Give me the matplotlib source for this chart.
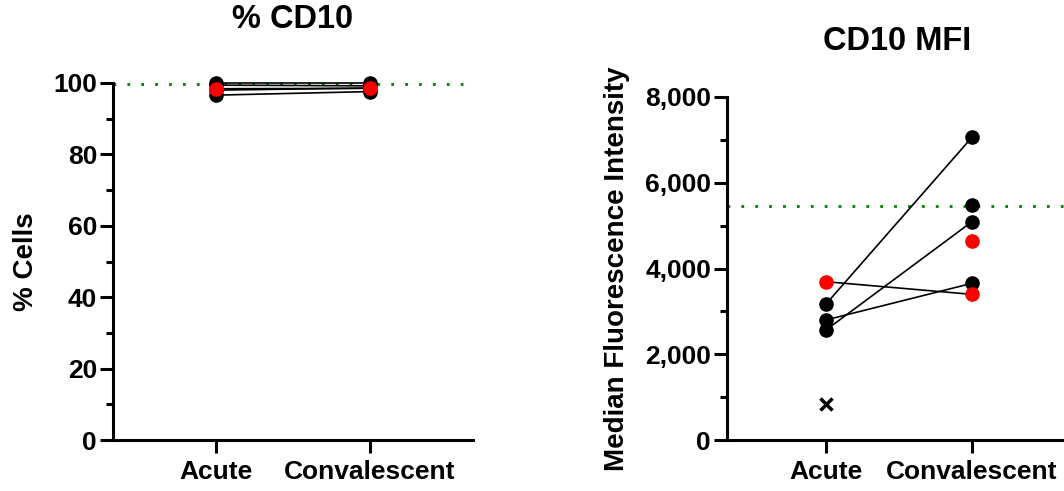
import matplotlib
matplotlib.use("Agg")
import matplotlib.pyplot as plt
from matplotlib.ticker import MultipleLocator, FuncFormatter

plt.rcParams['font.family'] = ['Liberation Sans', 'DejaVu Sans']
plt.rcParams['font.weight'] = 'bold'

categories = ["Acute", "Convalescent"]

# Left panel: % CD10 (paired black points, red point)
pct_acute_black = [99.9, 99.4, 98.0, 96.6]
pct_conv_black = [99.9, 99.2, 98.6, 97.6]
pct_acute_red = [98.4]
pct_conv_red = [98.5]
pct_reference = 99.6

# Right panel: CD10 MFI
mfi_pairs_acute = [3170, 2800, 2565]
mfi_pairs_conv = [7060, 3654, 5091]
mfi_red_pair_acute = [3692]
mfi_red_pair_conv = [3397]
mfi_conv_unpaired_black = [5480]
mfi_conv_unpaired_red = [4648]
mfi_acute_x = [832]
mfi_reference = 5457

W, H = 1064, 491
fig = plt.figure(figsize=(W / 100, H / 100), dpi=100)

def px_axes(x0, y_top, x1, y_bot):
    return fig.add_axes([x0 / W, 1 - y_bot / H, (x1 - x0) / W, (y_bot - y_top) / H])

ax1 = px_axes(113, 83, 473, 440)
ax2 = px_axes(727, 97, 1068, 440)

xpos = [0, 1]

def style(ax):
    for s in ['top', 'right']:
        ax.spines[s].set_visible(False)
    for s in ['left', 'bottom']:
        ax.spines[s].set_linewidth(2.2)
    ax.tick_params(axis='both', which='major', width=2.2, length=9.5, labelsize=19)
    ax.tick_params(axis='y', which='minor', width=2.2, length=5)
    ax.tick_params(axis='x', pad=5)
    ax.tick_params(axis='y', pad=2)
    ax.set_xticks(xpos)
    ax.set_xticklabels(categories, fontweight='bold')
    for lab in ax.get_yticklabels():
        lab.set_fontweight('bold')

ms = 9.5
# Left panel
ax1.set_xlim(-0.669, 1.669)
ax1.set_ylim(0, 100)
ax1.yaxis.set_major_locator(MultipleLocator(20))
ax1.yaxis.set_minor_locator(MultipleLocator(10))
ax1.axhline(pct_reference, color='#008000', lw=2, dashes=(1, 4), zorder=1)
for a, c in zip(pct_acute_black, pct_conv_black):
    ax1.plot(xpos, [a, c], color='black', lw=1.2, marker='o', ms=ms, clip_on=False, zorder=3)
for a, c in zip(pct_acute_red, pct_conv_red):
    ax1.plot(xpos, [a, c], color='black', lw=1.2, zorder=3, clip_on=False)
    ax1.plot(xpos, [a, c], ls='none', marker='o', ms=ms, color='#FF0000', clip_on=False, zorder=4)
style(ax1)
ax1.set_ylabel("% Cells", fontsize=20, fontweight='bold')
ax1.yaxis.set_label_coords(-0.205, 0.5)

# Right panel
ax2.set_xlim(-0.678, 1.658)
ax2.set_ylim(0, 8000)
ax2.yaxis.set_major_locator(MultipleLocator(2000))
ax2.yaxis.set_minor_locator(MultipleLocator(1000))
ax2.yaxis.set_major_formatter(FuncFormatter(lambda v, p: f"{int(v):,}"))
ax2.axhline(mfi_reference, color='#008000', lw=2, dashes=(1, 4), zorder=1)
for a, c in zip(mfi_pairs_acute, mfi_pairs_conv):
    ax2.plot(xpos, [a, c], color='black', lw=1.2, marker='o', ms=ms, clip_on=False, zorder=3)
for a, c in zip(mfi_red_pair_acute, mfi_red_pair_conv):
    ax2.plot(xpos, [a, c], color='black', lw=1.2, zorder=3)
    ax2.plot(xpos, [a, c], ls='none', marker='o', ms=ms, color='#FF0000', zorder=4)
ax2.plot([1] * len(mfi_conv_unpaired_black), mfi_conv_unpaired_black, ls='none', marker='o', ms=ms, color='black', zorder=4)
ax2.plot([1] * len(mfi_conv_unpaired_red), mfi_conv_unpaired_red, ls='none', marker='o', ms=ms, color='#FF0000', zorder=4)
ax2.plot([0] * len(mfi_acute_x), mfi_acute_x, ls='none', marker='x', ms=9, mew=2.5, color='black', zorder=4)
style(ax2)
ax2.set_ylabel("Median Fluorescence Intensity", fontsize=20, fontweight='bold')
ax2.yaxis.set_label_coords(-0.285, 0.5)

fig.text(293 / W, 1 - 20 / H, "% CD10", ha='center', va='center', fontsize=23.5, fontweight='bold')
fig.text(897 / W, 1 - 42 / H, "CD10 MFI", ha='center', va='center', fontsize=23.5, fontweight='bold')

fig.savefig("out.png", dpi=100)
